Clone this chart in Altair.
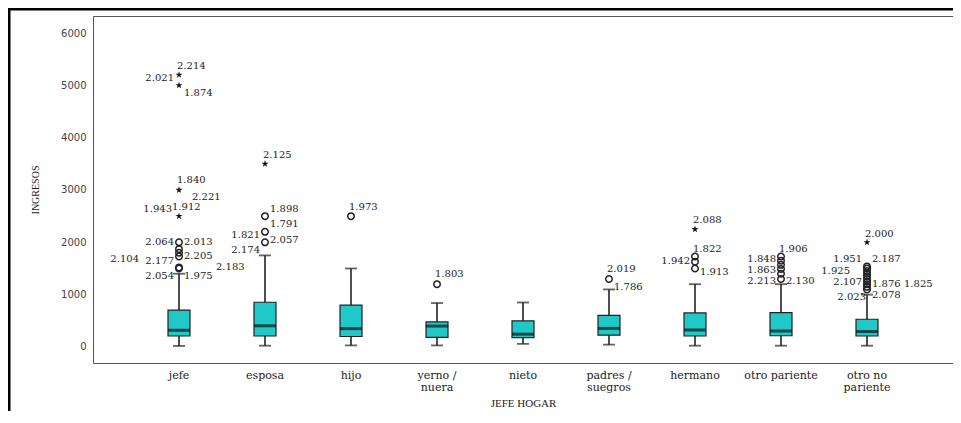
import altair as alt
import pandas as pd

# ---------------- data ----------------
CATEGORIES = ["jefe", "esposa", "hijo", "yerno / nuera", "nieto",
              "padres / suegros", "hermano", "otro pariente", "otro no pariente"]
WHISK_LO = [20, 25, 30, 30, 60, 45, 25, 25, 25]
Q1       = [210, 210, 200, 185, 180, 225, 210, 215, 210]
MEDIAN   = [320, 405, 350, 400, 245, 355, 325, 305, 295]
Q3       = [705, 855, 800, 480, 500, 605, 650, 655, 530]
WHISK_HI = [1400, 1750, 1500, 840, 850, 1100, 1200, 1200, 1000]

OUT_CAT = (["jefe"] * 6 + ["esposa"] * 3 + ["hijo", "yerno / nuera", "padres / suegros"]
           + ["hermano"] * 3 + ["otro pariente"] * 6 + ["otro no pariente"] * 10)
OUT_VAL = ([1500, 1520, 1730, 1800, 1870, 2000,
            2000, 2200, 2500,
            2500, 1200, 1300,
            1500, 1630, 1730,
            1300, 1400, 1490, 1570, 1650, 1730,
            1100, 1150, 1200, 1250, 1300, 1350, 1400, 1450, 1500, 1540])

EXT_CAT = ["jefe", "jefe", "jefe", "jefe", "esposa", "hermano", "otro no pariente"]
EXT_VAL = [2500, 3000, 5000, 5200, 3500, 2250, 2000]

LABEL_CAT = (["jefe"] * 15 + ["esposa"] * 6 + ["hijo", "yerno / nuera"]
             + ["padres / suegros"] * 2 + ["hermano"] * 4 + ["otro pariente"] * 5
             + ["otro no pariente"] * 9)
LABEL_VAL = [5360, 5140, 4853, 3190, 2875, 2640, 2672, 2003, 2000, 1683, 1651, 1746, 1530, 1352, 1352,
             3673, 2640, 2347, 2142, 2053, 1855,
             2684, 1390,
             1492, 1153,
             2429, 1874, 1645, 1428,
             1874, 1683, 1473, 1262, 1262,
             2156, 1677, 1677, 1454, 1237, 1195, 1195, 962, 1000]
LABEL_TXT = ["2.214", "2.021", "1.874", "1.840", "2.221", "1.943", "1.912", "2.064", "2.013",
             "2.104", "2.177", "2.205", "2.183", "2.054", "1.975",
             "2.125", "1.898", "1.791", "1.821", "2.057", "2.174",
             "1.973", "1.803",
             "2.019", "1.786",
             "2.088", "1.822", "1.942", "1.913",
             "1.906", "1.848", "1.863", "2.213", "2.130",
             "2.000", "1.951", "2.187", "1.925", "2.107", "1.876", "1.825", "2.023", "2.078"]
LABEL_POS = ["C", "L", "R", "C", "R2", "L7", "Cm", "L", "R", "LL", "L", "R", "RR", "L", "R",
             "C", "R", "R", "L", "R", "L",
             "C", "C",
             "C", "R",
             "C", "C", "L", "R",
             "C", "L", "L", "L", "R",
             "C", "L", "R", "L2", "L", "R", "RR", "Lc", "R"]

# ---------------- styles ----------------
PLACEMENT = {
    "C": ("left", -2), "Cm": ("left", -7), "L": ("right", -5), "L7": ("right", -7),
    "R": ("left", 5), "LL": ("right", -40), "RR": ("left", 37), "R2": ("left", 13),
    "L2": ("right", -17), "Lc": ("right", -1),
}
BOX_FILL = "#20c8c8"
STAR = ("M0,-1L0.225,-0.31L0.95,-0.31L0.364,0.118L0.588,0.809L0,0.382"
        "L-0.588,0.809L-0.364,0.118L-0.95,-0.31L-0.225,-0.31Z")
W, H = 860, 347

box_df = pd.DataFrame({"cat": CATEGORIES, "lo": WHISK_LO, "q1": Q1, "med": MEDIAN,
                       "q3": Q3, "hi": WHISK_HI})
out_df = pd.DataFrame({"cat": OUT_CAT, "v": OUT_VAL})
ext_df = pd.DataFrame({"cat": EXT_CAT, "v": EXT_VAL})
lab_df = pd.DataFrame({"cat": LABEL_CAT, "v": LABEL_VAL, "t": LABEL_TXT, "p": LABEL_POS})

X_SCALE = alt.Scale(type="band", domain=CATEGORIES, paddingInner=0, paddingOuter=0.5)
Y_SCALE = alt.Scale(domain=[-306, 6325], nice=False, zero=False)

label_expr = ("datum.value == 'yerno / nuera' ? ['yerno /', 'nuera'] : "
              "datum.value == 'padres / suegros' ? ['padres /', 'suegros'] : "
              "datum.value == 'otro no pariente' ? ['otro no', 'pariente'] : datum.value")

x_axis = alt.Axis(title="JEFE HOGAR", labelAngle=0, labelExpr=label_expr, ticks=False,
                  domain=False, labelFont="DejaVu Serif", labelFontSize=11,
                  labelColor="#222", labelPadding=6, labelLineHeight=12,
                  titleFont="Liberation Serif", titleFontSize=11, titleFontWeight="normal",
                  titleColor="#222", titleY=40, titleBaseline="middle")
y_axis = alt.Axis(title="INGRESOS", values=[0, 1000, 2000, 3000, 4000, 5000, 6000],
                  format="d", ticks=False, domain=False, grid=False, labelFont="DejaVu Sans",
                  labelFontSize=10, labelColor="#444", labelPadding=7,
                  titleFont="Liberation Serif", titleFontSize=10, titleFontWeight="normal",
                  titleColor="#222", titleX=-58, titleY=H / 2, titleAngle=-90,
                  titleAlign="center", titleBaseline="middle")

X = alt.X("cat:N", scale=X_SCALE, axis=x_axis)
Xn = alt.X("cat:N", scale=X_SCALE)

base = alt.Chart(box_df)
whisk = base.mark_rule(color="#222", strokeWidth=1.6).encode(
    x=X, y=alt.Y("lo:Q", scale=Y_SCALE, axis=y_axis), y2="hi:Q")
caps_lo = base.mark_tick(color="#222", size=12, thickness=1.8, orient="horizontal").encode(
    x=Xn, y=alt.Y("lo:Q", scale=Y_SCALE))
caps_hi = base.mark_tick(color="#222", size=12, thickness=1.8, orient="horizontal").encode(
    x=Xn, y=alt.Y("hi:Q", scale=Y_SCALE))
boxes = base.mark_bar(size=22, color=BOX_FILL, stroke="#222", strokeWidth=1.2).encode(
    x=Xn, y=alt.Y("q1:Q", scale=Y_SCALE), y2="q3:Q")
medians = base.mark_tick(color="#111", size=22, thickness=3, orient="horizontal").encode(
    x=Xn, y=alt.Y("med:Q", scale=Y_SCALE))

outl = alt.Chart(out_df).mark_point(shape="circle", filled=False, color="#222",
                                    strokeWidth=1.5, size=42, opacity=1).encode(
    x=Xn, y=alt.Y("v:Q", scale=Y_SCALE))
ext = alt.Chart(ext_df).mark_point(shape=STAR, filled=True, color="#111",
                                   size=55, opacity=1).encode(
    x=Xn, y=alt.Y("v:Q", scale=Y_SCALE))

text_layers = []
for code, (align, dx) in PLACEMENT.items():
    text_layers.append(
        alt.Chart(lab_df).transform_filter(alt.datum.p == code).mark_text(
            align=align, dx=dx, baseline="middle", font="DejaVu Serif",
            fontSize=10, color="#222").encode(
            x=Xn, y=alt.Y("v:Q", scale=Y_SCALE), text="t:N"))

one = pd.DataFrame({"a": [0]})
frame_top = alt.Chart(one).mark_rule(color="black", strokeWidth=3).encode(
    x=alt.value(-85), x2=alt.value(W), y=alt.value(-7))
frame_left = alt.Chart(one).mark_rule(color="black", strokeWidth=3).encode(
    x=alt.value(-84), y=alt.value(-8), y2=alt.value(H + 60))

chart = alt.layer(whisk, caps_lo, caps_hi, boxes, medians, outl, ext, *text_layers,
                  frame_top, frame_left).properties(
    width=W, height=H, background="white",
    padding={"left": 85, "top": 8, "right": 0, "bottom": 48},
    autosize=alt.AutoSizeParams(type="none"),
).configure_view(stroke="#555", strokeWidth=1)

chart.save("out.html", embed_options={"renderer": "svg", "actions": False})
